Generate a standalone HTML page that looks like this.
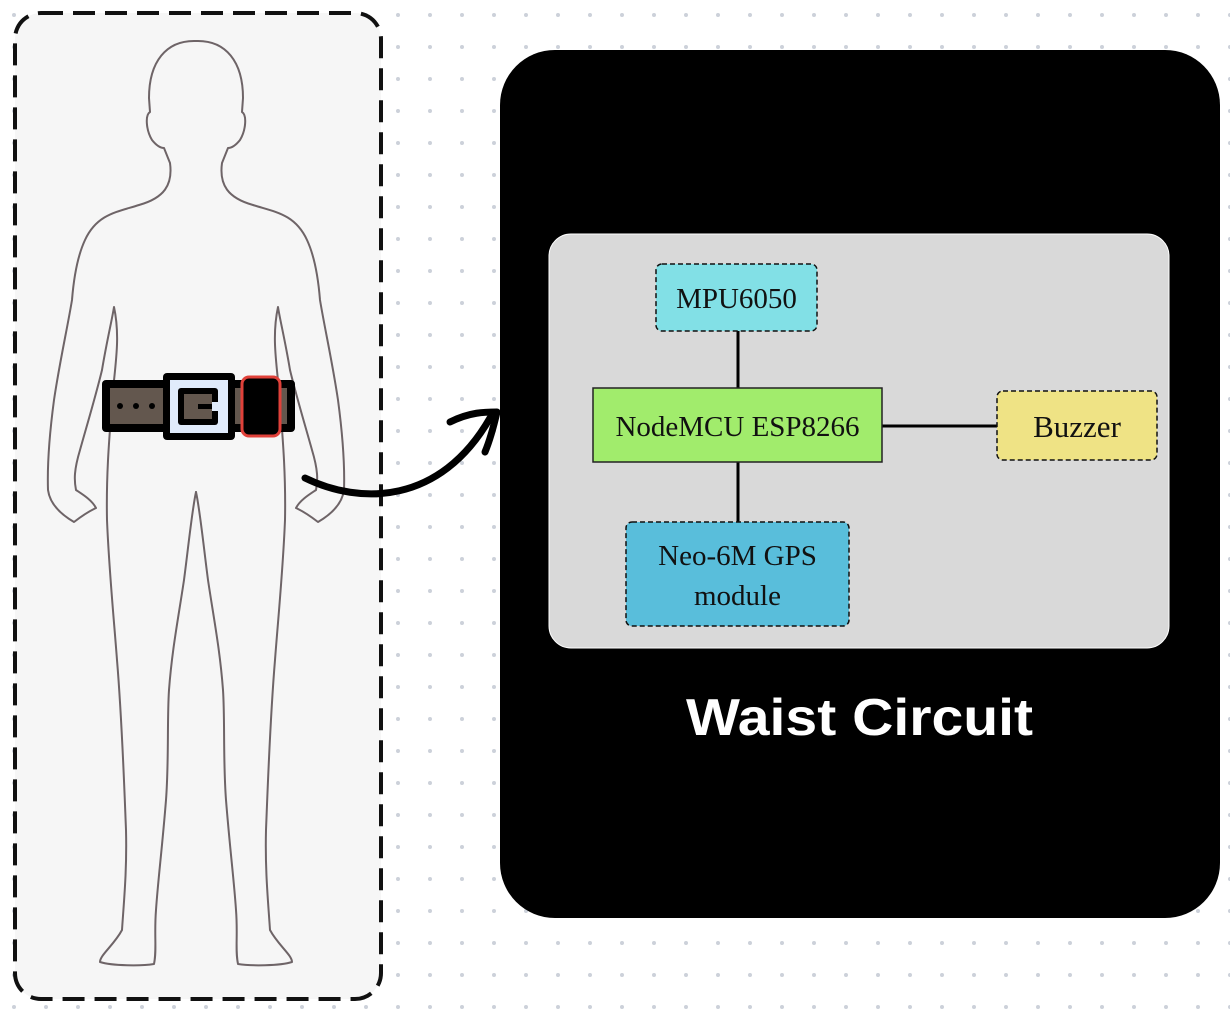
<!DOCTYPE html>
<html><head><meta charset="utf-8"><style>
html,body{margin:0;padding:0;background:#fff;}
svg{display:block;}
</style></head><body>
<svg width="1230" height="1010" viewBox="0 0 1230 1010" xmlns="http://www.w3.org/2000/svg">
<defs>
<pattern id="dots" x="14" y="15" width="32" height="32" patternUnits="userSpaceOnUse">
<circle cx="0" cy="0" r="2" fill="#ccd1da"/><circle cx="32" cy="0" r="2" fill="#ccd1da"/><circle cx="0" cy="32" r="2" fill="#ccd1da"/><circle cx="32" cy="32" r="2" fill="#ccd1da"/>
</pattern>
</defs>
<rect width="1230" height="1010" fill="url(#dots)"/>
<!-- left dashed panel -->
<rect x="15" y="13" width="366" height="986" rx="26" fill="#f6f6f6" stroke="#111" stroke-width="4" stroke-dasharray="22 10"/>
<!-- body silhouette -->
<g fill="none" stroke="#6e6467" stroke-width="2" stroke-linejoin="round" stroke-linecap="round">
<path id="half" d="M196,41 C226,40 243,62 243,98 L242,112 C247,115 246,130 240,140 C236,145 232,148 228,148 L222,163 C219,185 228,198 253,205 C275,212 295,214 307,240 C314,255 318,275 320,300 C325,330 332,360 338,400 C342,430 345,460 344,490 C342,505 330,515 318,522 C305,512 300,510 296,508 C300,500 310,494 316,490 C318,480 318,470 312,450 C305,425 296,395 290,370 C285,340 280,320 278,307 C272,335 276,360 279,390 C282,430 286,470 285,520 C283,570 278,620 275,660 C270,720 268,780 266,830 C265,870 268,900 270,930 C278,945 292,955 292,962 C280,966 250,966 238,964 C235,950 238,935 236,910 C234,880 230,850 226,800 C223,760 225,720 223,690 C220,650 214,620 208,580 C204,550 200,510 196,492"/>
<use href="#half" transform="translate(392,0) scale(-1,1)"/>
</g>
<!-- belt -->
<rect x="102" y="380" width="193" height="52" rx="4" fill="#000"/>
<rect x="110" y="388" width="177" height="36" fill="#63574e"/>
<circle cx="120" cy="406" r="3" fill="#000"/><circle cx="136" cy="406" r="3" fill="#000"/><circle cx="152" cy="406" r="3" fill="#000"/>
<rect x="163" y="373" width="72" height="67" rx="4" fill="#000"/>
<rect x="170" y="380" width="58" height="53" fill="#e0ebfb"/>
<rect x="178" y="388" width="40" height="37" rx="3" fill="#000"/>
<rect x="184" y="394" width="28" height="25" fill="#63574e"/>
<rect x="198" y="404" width="20" height="5" fill="#000"/>
<rect x="212" y="402" width="16" height="9" fill="#e0ebfb"/>
<rect x="242" y="377" width="38" height="59" rx="7" fill="#000" stroke="#e0413a" stroke-width="3"/>
<!-- arrow -->
<path d="M305,478 C360,505 440,505 490,418" fill="none" stroke="#000" stroke-width="7" stroke-linecap="round"/>
<path d="M450,422 C470,412 485,412 497,412 C494,425 490,440 485,452" fill="none" stroke="#000" stroke-width="7" stroke-linecap="round" stroke-linejoin="round"/>
<!-- right black panel -->
<rect x="500" y="50" width="720" height="868" rx="55" fill="#000"/>
<rect x="549" y="234" width="620" height="414" rx="22" fill="#d9d9d9" stroke="#fff" stroke-width="1"/>
<!-- connectors -->
<line x1="738" y1="331" x2="738" y2="388" stroke="#000" stroke-width="3"/>
<line x1="738" y1="462" x2="738" y2="522" stroke="#000" stroke-width="3"/>
<line x1="882" y1="426" x2="997" y2="426" stroke="#000" stroke-width="3"/>
<!-- nodes -->
<rect x="656" y="264" width="161" height="67" rx="6" fill="#82e0e6" stroke="#111" stroke-width="1.5" stroke-dasharray="5 3"/>
<text x="736.5" y="308" font-family="Liberation Serif, serif" font-size="29" text-anchor="middle" fill="#111">MPU6050</text>
<rect x="593" y="388" width="289" height="74" fill="#a1ec6c" stroke="#222" stroke-width="1.5"/>
<text x="737.5" y="436" font-family="Liberation Serif, serif" font-size="29" text-anchor="middle" fill="#111">NodeMCU ESP8266</text>
<rect x="997" y="391" width="160" height="69" rx="6" fill="#efe385" stroke="#111" stroke-width="1.5" stroke-dasharray="5 3"/>
<text x="1077" y="437" font-family="Liberation Serif, serif" font-size="31" text-anchor="middle" fill="#111">Buzzer</text>
<rect x="626" y="522" width="223" height="104" rx="6" fill="#59bedb" stroke="#111" stroke-width="1.5" stroke-dasharray="5 3"/>
<text x="737.5" y="565" font-family="Liberation Serif, serif" font-size="29" text-anchor="middle" fill="#111">Neo-6M GPS</text>
<text x="737.5" y="605" font-family="Liberation Serif, serif" font-size="29" text-anchor="middle" fill="#111">module</text>
<!-- title -->
<text x="686" y="735" font-family="Liberation Sans, sans-serif" font-weight="bold" font-size="52" fill="#fff" textLength="347" lengthAdjust="spacingAndGlyphs">Waist Circuit</text>
</svg>
</body></html>
